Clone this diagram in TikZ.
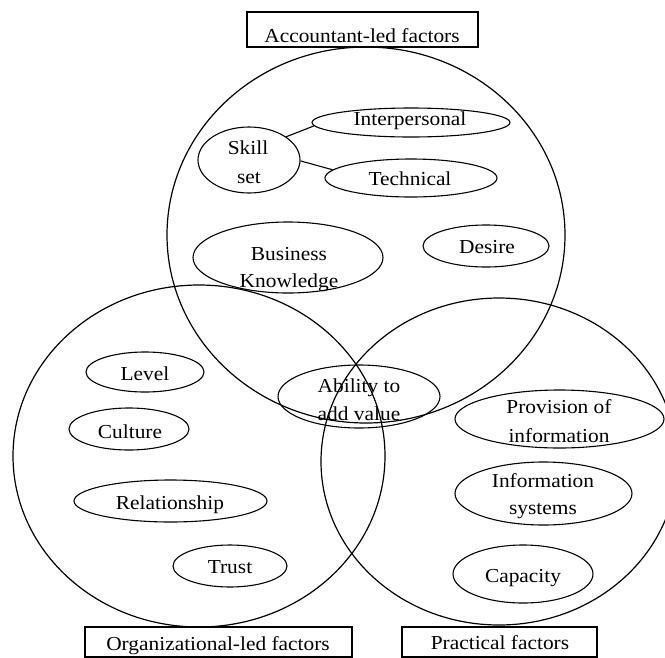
\documentclass[tikz,border=0pt]{standalone}
\usepackage{fontspec}
\setmainfont{Liberation Serif}[FakeStretch=1.08]
\usetikzlibrary{shapes.geometric}
\begin{document}
\begin{tikzpicture}[x=1pt,y=-1pt,
  ring/.style={draw, ellipse, line width=1.2pt, inner sep=0pt},
  oval/.style={draw, ellipse, line width=1.1pt, inner sep=0pt},
  frame/.style={draw, rectangle, line width=1.1pt, inner sep=0pt},
  lbl/.style={anchor=base, inner sep=0pt, font=\fontsize{19.8pt}{28pt}\selectfont},
  link/.style={line width=1.1pt}]
\useasboundingbox (0,0) rectangle (665,657);
\clip (0,0) rectangle (665,657);
% big circles
\node[ring, minimum width=398pt, minimum height=376pt] (ctop) at (366,235) {};
\node[ring, minimum width=372pt, minimum height=342pt] (cleft) at (199,456) {};
\node[ring, minimum width=356pt, minimum height=327pt] (cright) at (499,461.5) {};
% title boxes
\node[frame, minimum width=231pt, minimum height=35pt] (boxA) at (362.5,29.5) {};
\node[frame, minimum width=267pt, minimum height=30pt] (boxO) at (218.5,642) {};
\node[frame, minimum width=195pt, minimum height=30pt] (boxP) at (499.5,642) {};
\node[lbl] (tA) at (362,42) {Accountant-led factors};
\node[lbl] (tO) at (218,650) {Organizational-led factors};
\node[lbl] (tP) at (500,649) {Practical factors};
% accountant-led ovals
\node[oval, minimum width=102pt, minimum height=66pt] (skill) at (249,160) {};
\node[oval, minimum width=198pt, minimum height=29pt] (inter) at (411,122.5) {};
\node[oval, minimum width=172pt, minimum height=38pt] (tech) at (411,178) {};
\node[oval, minimum width=190pt, minimum height=71pt] (biz) at (288,257.5) {};
\node[oval, minimum width=126pt, minimum height=42pt] (desire) at (486,246) {};
\node[oval, minimum width=162pt, minimum height=63pt] (ability) at (359,396.5) {};
% organizational ovals
\node[oval, minimum width=118pt, minimum height=40pt] (level) at (145,372) {};
\node[oval, minimum width=120pt, minimum height=42pt] (culture) at (129,429) {};
\node[oval, minimum width=193pt, minimum height=42pt] (rel) at (170.5,501) {};
\node[oval, minimum width=114pt, minimum height=42pt] (trust) at (230,566) {};
% practical ovals
\node[oval, minimum width=209pt, minimum height=58pt] (prov) at (559.5,419) {};
\node[oval, minimum width=177pt, minimum height=63pt] (infosys) at (543.5,493.5) {};
\node[oval, minimum width=140pt, minimum height=58pt] (cap) at (523,574) {};
% connectors
\draw[link] (skill.32) -- (inter.182);
\draw[link] (skill.-1) -- (tech.174);
% labels
\node[lbl] (l1) at (410,125) {Interpersonal};
\node[lbl] (l2a) at (248,154) {Skill};
\node[lbl] (l2b) at (249,183) {set};
\node[lbl] (l3) at (410,185) {Technical};
\node[lbl] (l4a) at (289,260) {Business};
\node[lbl] (l4b) at (289,287) {Knowledge};
\node[lbl] (l5) at (487,253) {Desire};
\node[lbl] (l6a) at (359,392) {Ability to};
\node[lbl] (l6b) at (359,420) {add value};
\node[lbl] (l7) at (145,380) {Level};
\node[lbl] (l8) at (130,438) {Culture};
\node[lbl] (l9) at (170,509) {Relationship};
\node[lbl] (l10) at (230,573) {Trust};
\node[lbl] (l11a) at (559,413) {Provision of};
\node[lbl] (l11b) at (559,442) {information};
\node[lbl] (l12a) at (543,487) {Information};
\node[lbl] (l12b) at (543,514) {systems};
\node[lbl] (l13) at (523,582) {Capacity};
\end{tikzpicture}
\end{document}
